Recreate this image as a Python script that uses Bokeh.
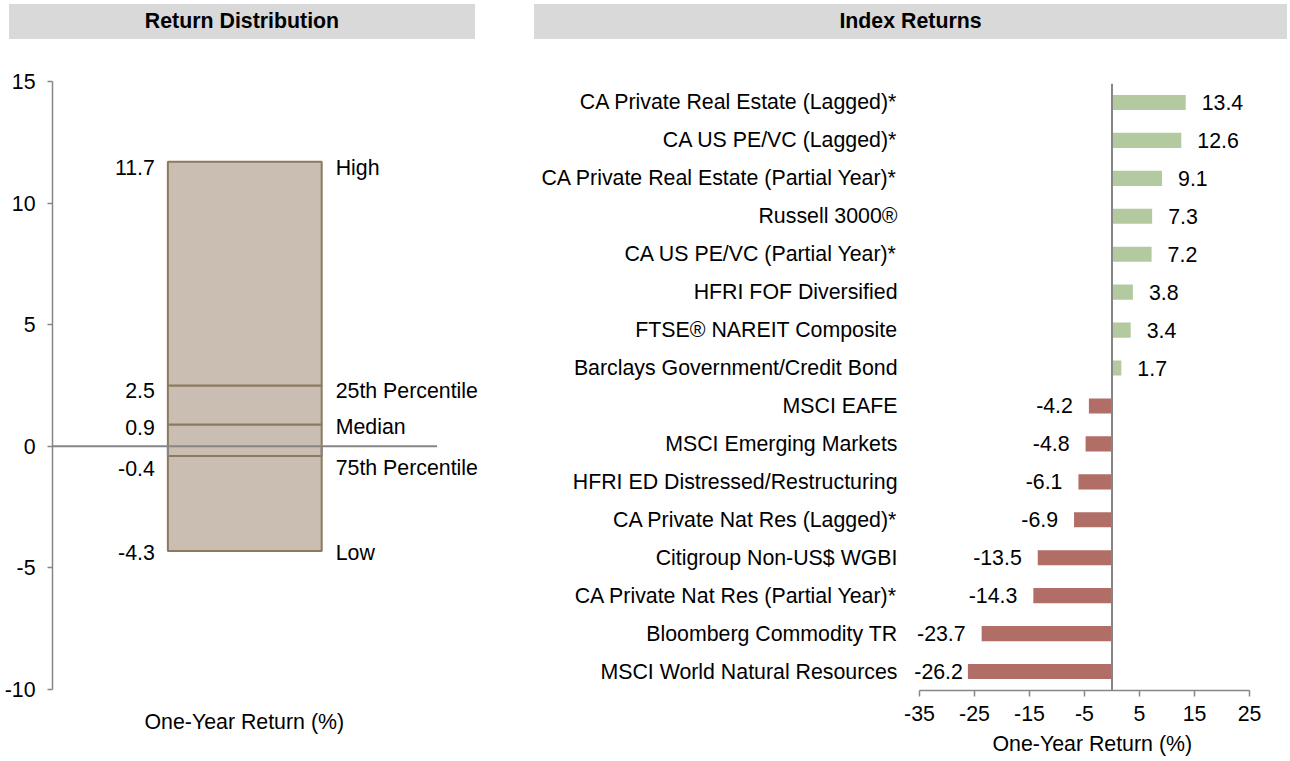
from bokeh.plotting import figure
from bokeh.models import (Range1d, FactorRange, Span, FixedTicker, ColumnDataSource, Div,
                          LabelSet, PrintfTickFormatter, Title)
from bokeh.layouts import row, column
from bokeh.core.properties import value
from bokeh.embed import file_html
from bokeh.resources import INLINE

FONT = "Liberation Sans"
FS = "16pt"
AXIS_GRAY = "#868686"

# ---------------- data ----------------
dist_labels = ["High", "25th Percentile", "Median", "75th Percentile", "Low"]
dist_values = [11.7, 2.5, 0.9, -0.4, -4.3]
dist_ticks = [-10, -5, 0, 5, 10, 15]

index_names = [
    "CA Private Real Estate (Lagged)*",
    "CA US PE/VC (Lagged)*",
    "CA Private Real Estate (Partial Year)*",
    "Russell 3000\u00ae",
    "CA US PE/VC (Partial Year)*",
    "HFRI FOF Diversified",
    "FTSE\u00ae NAREIT Composite",
    "Barclays Government/Credit Bond",
    "MSCI EAFE",
    "MSCI Emerging Markets",
    "HFRI ED Distressed/Restructuring",
    "CA Private Nat Res (Lagged)*",
    "Citigroup Non-US$ WGBI",
    "CA Private Nat Res (Partial Year)*",
    "Bloomberg Commodity TR",
    "MSCI World Natural Resources",
]
index_returns = [13.4, 12.6, 9.1, 7.3, 7.2, 3.8, 3.4, 1.7,
                 -4.2, -4.8, -6.1, -6.9, -13.5, -14.3, -23.7, -26.2]
index_ticks = [-35, -25, -15, -5, 5, 15, 25]

# label nudges (pixels) -- styling only
dist_label_dy = [6, 5, 3, 12, 2]                 # downward shift of distribution labels
index_label_dx = [16] * 8 + [-16] * 7 + [-5]     # gap between bar end and value label

BOX_L, BOX_R = 0.3, 0.7   # box position across the (0..1) zero-line width

# ---------------- left: return distribution ----------------
p1 = figure(width=528, height=718, x_range=Range1d(0, 1.165), y_range=Range1d(-10, 15),
            output_backend="svg", toolbar_location=None,
            min_border_left=52, min_border_right=28, min_border_top=42, min_border_bottom=68)
p1.grid.visible = False
p1.outline_line_color = None
p1.xaxis.visible = False

p1.yaxis.ticker = FixedTicker(ticks=dist_ticks)
p1.yaxis.formatter = PrintfTickFormatter(format="%d")
p1.yaxis.axis_line_color = AXIS_GRAY
p1.yaxis.axis_line_width = 1.5
p1.yaxis.major_tick_line_color = AXIS_GRAY
p1.yaxis.major_tick_line_width = 1.5
p1.yaxis.major_tick_out = 5
p1.yaxis.major_tick_in = 0
p1.yaxis.minor_tick_line_color = None
p1.yaxis.major_label_standoff = 12
p1.yaxis.major_label_text_font = FONT
p1.yaxis.major_label_text_font_size = FS
p1.yaxis.major_label_text_color = "black"

edges = sorted(dist_values)
p1.quad(left=BOX_L, right=BOX_R, bottom=edges[:-1], top=edges[1:],
        fill_color="#c9beb1", line_color="#8b7a5e", line_width=2)
p1.segment(x0=[BOX_L, BOX_R], x1=[BOX_L, BOX_R], y0=[dist_values[3]] * 2, y1=[0, 0],
           line_color=AXIS_GRAY, line_width=2)
# horizontal zero line (category axis of the distribution chart)
p1.segment(x0=[0], x1=[1], y0=[0], y1=[0], line_color=AXIS_GRAY, line_width=2)

dsrc = ColumnDataSource(dict(y=dist_values, lab=dist_labels,
                             val=[f"{v:.1f}" for v in dist_values],
                             dy=[-d for d in dist_label_dy],
                             xl=[BOX_L] * len(dist_values), xr=[BOX_R] * len(dist_values)))
p1.add_layout(LabelSet(x="xl", y="y", text="val", source=dsrc, x_offset=-13, y_offset="dy",
                       text_align="right", text_baseline="middle",
                       text_font=value(FONT), text_font_size=FS, text_color="black"))
p1.add_layout(LabelSet(x="xr", y="y", text="lab", source=dsrc, x_offset=14, y_offset="dy",
                       text_align="left", text_baseline="middle",
                       text_font=value(FONT), text_font_size=FS, text_color="black"))

p1.add_layout(Title(text="One-Year Return (%)", align="left", offset=92, standoff=36,
                    text_font=FONT, text_font_size=FS, text_font_style="normal",
                    text_color="black"), "below")

# ---------------- right: index returns ----------------
p2 = figure(width=762, height=722, x_range=Range1d(-37, 25),
            y_range=FactorRange(factors=index_names[::-1]),
            output_backend="svg", toolbar_location=None,
            min_border_left=380, min_border_right=41, min_border_top=44, min_border_bottom=70)
p2.grid.visible = False
p2.outline_line_color = None

src = ColumnDataSource(dict(
    name=index_names, ret=index_returns,
    lab=[f"{v:.1f}" for v in index_returns],
    dx=index_label_dx,
))
pos_idx = [i for i, v in enumerate(index_returns) if v >= 0]
neg_idx = [i for i, v in enumerate(index_returns) if v < 0]
src_pos = ColumnDataSource({k: [c[i] for i in pos_idx] for k, c in src.data.items()})
src_neg = ColumnDataSource({k: [c[i] for i in neg_idx] for k, c in src.data.items()})

p2.hbar(y="name", left=0, right="ret", height=0.4, source=src_pos,
        fill_color="#b3c9a0", line_color=None)
p2.hbar(y="name", left=0, right="ret", height=0.4, source=src_neg,
        fill_color="#b06e66", line_color=None)
p2.add_layout(Span(location=0, dimension="height", line_color=AXIS_GRAY, line_width=2))
p2.add_layout(LabelSet(x="ret", y="name", text="lab", source=src_pos, x_offset="dx",
                       text_align="left", text_baseline="middle",
                       text_font=value(FONT), text_font_size=FS, text_color="black"))
p2.add_layout(LabelSet(x="ret", y="name", text="lab", source=src_neg, x_offset="dx",
                       text_align="right", text_baseline="middle",
                       text_font=value(FONT), text_font_size=FS, text_color="black"))

p2.yaxis.axis_line_color = None
p2.yaxis.major_tick_out = 0
p2.yaxis.major_tick_in = 0
p2.yaxis.minor_tick_line_color = None
p2.yaxis.major_label_standoff = 11
p2.yaxis.major_label_text_font = FONT
p2.yaxis.major_label_text_font_size = FS
p2.yaxis.major_label_text_color = "black"

p2.xaxis.ticker = FixedTicker(ticks=index_ticks)
p2.xaxis.bounds = (index_ticks[0], index_ticks[-1])
p2.xaxis.formatter = PrintfTickFormatter(format="%d")
p2.xaxis.axis_line_color = AXIS_GRAY
p2.xaxis.axis_line_width = 1.5
p2.xaxis.major_tick_line_color = AXIS_GRAY
p2.xaxis.major_tick_line_width = 1.5
p2.xaxis.major_tick_out = 6
p2.xaxis.major_tick_in = 0
p2.xaxis.minor_tick_line_color = None
p2.xaxis.major_label_standoff = 9
p2.xaxis.major_label_text_font = FONT
p2.xaxis.major_label_text_font_size = FS
p2.xaxis.major_label_text_color = "black"

p2.add_layout(Title(text="One-Year Return (%)", align="left", offset=84, standoff=12,
                    text_font=FONT, text_font_size=FS, text_font_style="normal",
                    text_color="black"), "below")

# ---------------- headers ----------------
HDR = ("<div style=\"margin-left:{ml}px;margin-top:4px;width:{w}px;height:35px;background:#d9d9d9;"
       "font-family:'Liberation Sans',Arial,sans-serif;font-weight:bold;font-size:16pt;"
       "color:#000;display:flex;align-items:center;justify-content:center;\">{t}</div>")
left_hdr = Div(text=HDR.format(ml=9, w=466, t="Return Distribution"),
               width=528, height=39, margin=(0, 0, 0, 0))
right_hdr = Div(text=HDR.format(ml=6, w=753, t="Index Returns"),
                width=762, height=39, margin=(0, 0, 0, 0))

layout = row(column(left_hdr, p1), column(right_hdr, p2))
open("out.html", "w").write(file_html(layout, INLINE))
